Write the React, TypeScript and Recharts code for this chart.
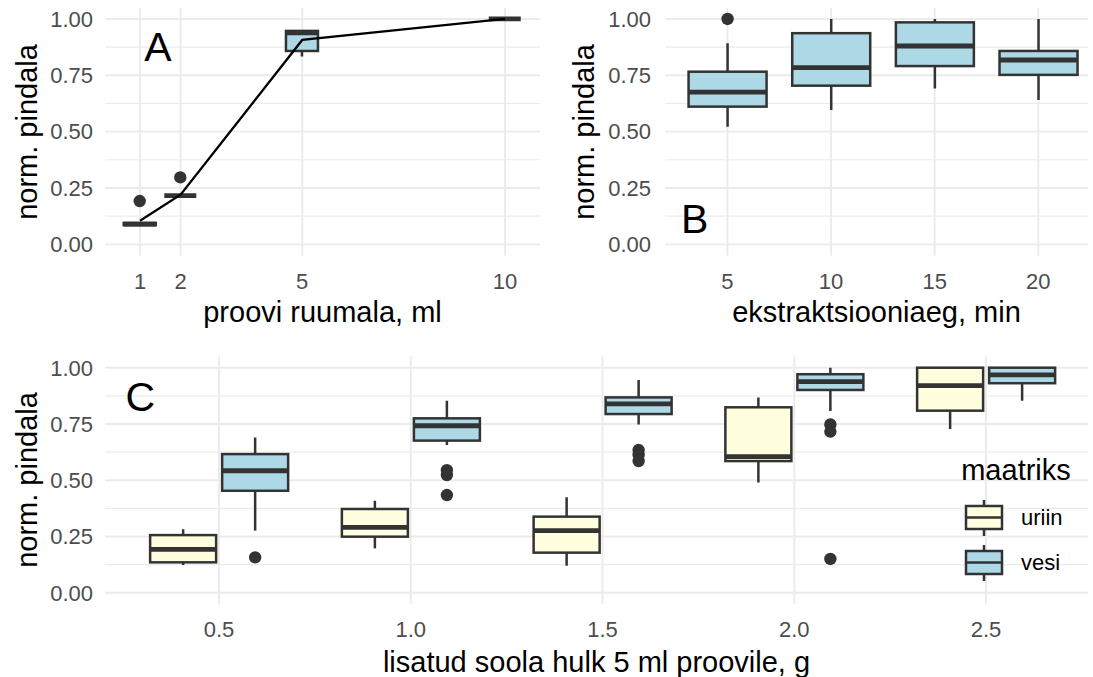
import React from "react";
import { Bar, CartesianGrid, ComposedChart, Line, XAxis, YAxis } from "recharts";

const FONT = "'Liberation Sans', Arial, Helvetica, sans-serif";
const INK = "#333333";
const BLUE = "#add8e6";
const YELLOW = "#ffffe0";
const GRID = "#ebebeb";
const Y_MIN = -0.05;
const Y_MAX = 1.05;
const yTicks = [0, 0.25, 0.5, 0.75, 1];
const yMinor = [0.125, 0.375, 0.625, 0.875];

// A: proovi ruumala, ml
const volumes = [1, 2, 5, 10];
const volLow = [0.085, 0.216, 0.833, 1.0];
const volQ1 = [0.085, 0.216, 0.858, 1.0];
const volMed = [0.09, 0.216, 0.938, 1.0];
const volQ3 = [0.095, 0.216, 0.947, 1.0];
const volHigh = [0.095, 0.216, 0.947, 1.0];
const volOut = [[0.192], [0.297], [], []];
const volMean = [0.105, 0.22, 0.907, 1.0];

// B: ekstraktsiooniaeg, min
const times = [5, 10, 15, 20];
const timeLow = [0.522, 0.596, 0.692, 0.64];
const timeQ1 = [0.611, 0.704, 0.791, 0.752];
const timeMed = [0.675, 0.784, 0.88, 0.818];
const timeQ3 = [0.766, 0.937, 0.985, 0.858];
const timeHigh = [0.892, 1.0, 1.0, 1.0];
const timeOut = [[1.0], [], [], []];

// C: lisatud soola hulk, g
const salts = [0.5, 1.0, 1.5, 2.0, 2.5];
const uriinLow = [0.123, 0.197, 0.12, 0.49, 0.728];
const uriinQ1 = [0.135, 0.249, 0.178, 0.585, 0.809];
const uriinMed = [0.193, 0.29, 0.276, 0.605, 0.92];
const uriinQ3 = [0.256, 0.372, 0.338, 0.824, 1.0];
const uriinHigh = [0.282, 0.409, 0.424, 0.868, 1.0];
const uriinOut: number[][] = [[], [], [], [], []];
const vesiLow = [0.276, 0.656, 0.748, 0.808, 0.853];
const vesiQ1 = [0.453, 0.676, 0.794, 0.901, 0.931];
const vesiMed = [0.542, 0.742, 0.839, 0.938, 0.968];
const vesiQ3 = [0.616, 0.775, 0.868, 0.971, 1.0];
const vesiHigh = [0.69, 0.853, 0.945, 1.0, 1.0];
const vesiOut = [[0.157], [0.545, 0.523, 0.434], [0.634, 0.612, 0.585], [0.748, 0.716, 0.15], []];

type Stats = { low: number; q1: number; med: number; q3: number; high: number; out: number[] };

const stats = (low: number[], q1: number[], med: number[], q3: number[], high: number[], out: number[][], i: number): Stats => ({
  low: low[i], q1: q1[i], med: med[i], q3: q3[i], high: high[i], out: out[i],
});

const dataA = volumes.map((v, i) => ({
  vol: v,
  mean: volMean[i],
  box: stats(volLow, volQ1, volMed, volQ3, volHigh, volOut, i),
  range: [volQ1[i], volQ3[i]],
}));

const dataB = times.map((t, i) => ({
  time: t,
  box: stats(timeLow, timeQ1, timeMed, timeQ3, timeHigh, timeOut, i),
  range: [timeQ1[i], timeQ3[i]],
}));

const dataC = salts.map((s, i) => ({
  salt: s,
  uriin: stats(uriinLow, uriinQ1, uriinMed, uriinQ3, uriinHigh, uriinOut, i),
  vesi: stats(vesiLow, vesiQ1, vesiMed, vesiQ3, vesiHigh, vesiOut, i),
  uriinRange: [uriinQ1[i], uriinQ3[i]],
  vesiRange: [vesiQ1[i], vesiQ3[i]],
}));

// box + whiskers + outliers, placed from the bar rectangle recharts computed
const boxShape = (key: string, fill: string) => (props: any) => {
  const { x, y, width, height, background, payload } = props;
  const s: Stats = payload[key];
  let py = (v: number) => y + (s.q3 - v) * (height / Math.max(s.q3 - s.q1, 1e-9));
  if (background && background.height) {
    py = (v: number) => background.y + ((Y_MAX - v) / (Y_MAX - Y_MIN)) * background.height;
  }
  const cx = x + width / 2;
  return (
    <g>
      <line x1={cx} x2={cx} y1={py(s.high)} y2={py(s.q3)} stroke={INK} strokeWidth={2.5} />
      <line x1={cx} x2={cx} y1={py(s.q1)} y2={py(s.low)} stroke={INK} strokeWidth={2.5} />
      <rect x={x} y={py(s.q3)} width={width} height={Math.max(py(s.q1) - py(s.q3), 0)} fill={fill} stroke={INK} strokeWidth={2.5} />
      <line x1={x} x2={x + width} y1={py(s.med)} y2={py(s.med)} stroke={INK} strokeWidth={4.8} />
      {s.out.map((v, i) => (
        <circle key={i} cx={cx} cy={py(v)} r={6.2} fill={INK} />
      ))}
    </g>
  );
};

const tickStyle = { fill: "#4d4d4d", fontSize: 22, fontFamily: FONT };
const titleStyle: React.CSSProperties = {
  position: "absolute",
  fontFamily: FONT,
  fontSize: 29,
  color: "#000",
  whiteSpace: "nowrap",
  lineHeight: 1,
};

const Title = ({ x, y, text, rotate = false, size = 29 }: { x: number; y: number; text: string; rotate?: boolean; size?: number }) => (
  <div
    style={{
      ...titleStyle,
      fontSize: size,
      left: x,
      top: y,
      transform: `translate(-50%, -50%)${rotate ? " rotate(-90deg)" : ""}`,
    }}
  >
    {text}
  </div>
);

const grids = (xValues: number[]) => (
  <>
    <CartesianGrid stroke={GRID} strokeWidth={1.9} syncWithTicks horizontalValues={yTicks} verticalValues={xValues} />
    <CartesianGrid stroke={GRID} strokeWidth={1.1} syncWithTicks vertical={false} horizontalValues={yMinor} />
  </>
);

const yAxis = (margin: number) => (
  <YAxis
    type="number"
    domain={[Y_MIN, Y_MAX]}
    ticks={yTicks}
    allowDataOverflow
    width={60}
    axisLine={false}
    tickLine={false}
    tickSize={0}
    tickMargin={margin}
    tick={tickStyle}
    tickFormatter={(v: number) => v.toFixed(2)}
  />
);

const LegendKey = ({ top, fill, label }: { top: number; fill: string; label: string }) => (
  <div style={{ position: "absolute", left: 960, top, width: 120, height: 40 }}>
    <svg width={50} height={40} style={{ position: "absolute", left: 0, top: 0 }}>
      <line x1={24} x2={24} y1={2} y2={38} stroke={INK} strokeWidth={2.5} />
      <rect x={6} y={8} width={36} height={23} fill={fill} stroke={INK} strokeWidth={2.5} />
      <line x1={6} x2={42} y1={19.5} y2={19.5} stroke={INK} strokeWidth={2.5} />
    </svg>
    <div style={{ position: "absolute", left: 61, top: 20, transform: "translateY(-50%)", fontFamily: FONT, fontSize: 22, lineHeight: 1 }}>
      {label}
    </div>
  </div>
);

export default function App() {
  return (
    <div style={{ position: "absolute", left: 0, top: 0, width: 1093, height: 677, background: "#fff", fontFamily: FONT }}>
      <div style={{ position: "absolute", left: 0, top: 0 }}>
        <ComposedChart width={545} height={340} data={dataA} margin={{ top: 7.7, right: 5, bottom: 54.4, left: 45 }}>
          {grids(volumes)}
          <XAxis
            dataKey="vol"
            type="number"
            domain={[0.137, 10.862]}
            ticks={volumes}
            allowDataOverflow
            height={30}
            axisLine={false}
            tickLine={false}
            tickSize={0}
            tickMargin={18}
            tick={tickStyle}
          />
          {yAxis(12)}
          <Line dataKey="mean" type="linear" stroke="#000" strokeWidth={2.3} dot={false} isAnimationActive={false} />
          <Bar dataKey="range" barSize={32} shape={boxShape("box", BLUE)} isAnimationActive={false} />
        </ComposedChart>
      </div>

      <div style={{ position: "absolute", left: 545, top: 0 }}>
        <ComposedChart width={548} height={340} data={dataB} margin={{ top: 7.7, right: 5, bottom: 54.4, left: 60 }}>
          {grids(times)}
          <XAxis
            dataKey="time"
            type="number"
            domain={[1.99, 22.395]}
            ticks={times}
            allowDataOverflow
            height={30}
            axisLine={false}
            tickLine={false}
            tickSize={0}
            tickMargin={18}
            tick={tickStyle}
          />
          {yAxis(14)}
          <Bar dataKey="range" barSize={78} shape={boxShape("box", BLUE)} isAnimationActive={false} />
        </ComposedChart>
      </div>

      <div style={{ position: "absolute", left: 0, top: 340 }}>
        <ComposedChart width={1093} height={337} data={dataC} barGap={6} margin={{ top: 16.45, right: 5, bottom: 43.05, left: 45 }}>
          {grids(salts)}
          <XAxis
            dataKey="salt"
            type="number"
            domain={[0.2027, 2.766]}
            ticks={salts}
            allowDataOverflow
            height={30}
            axisLine={false}
            tickLine={false}
            tickSize={0}
            tickMargin={17.5}
            tick={tickStyle}
            tickFormatter={(v: number) => v.toFixed(1)}
          />
          {yAxis(12)}
          <Bar dataKey="uriinRange" barSize={66} shape={boxShape("uriin", YELLOW)} isAnimationActive={false} />
          <Bar dataKey="vesiRange" barSize={66} shape={boxShape("vesi", BLUE)} isAnimationActive={false} />
        </ComposedChart>
      </div>

      <Title x={322.5} y={312} text="proovi ruumala, ml" />
      <Title x={876.5} y={312} text="ekstraktsiooniaeg, min" />
      <Title x={596.5} y={661.5} text="lisatud soola hulk 5 ml proovile, g" />
      <Title x={27} y={131.7} text="norm. pindala" rotate />
      <Title x={584} y={131.7} text="norm. pindala" rotate />
      <Title x={27} y={480.2} text="norm. pindala" rotate />

      <Title x={158} y={46.7} text="A" size={41} />
      <Title x={694.7} y={219} text="B" size={41} />
      <Title x={140.3} y={396.7} text="C" size={41} />

      <Title x={1016} y={470} text="maatriks" />
      <LegendKey top={498} fill={YELLOW} label="uriin" />
      <LegendKey top={543} fill={BLUE} label="vesi" />
    </div>
  );
}
